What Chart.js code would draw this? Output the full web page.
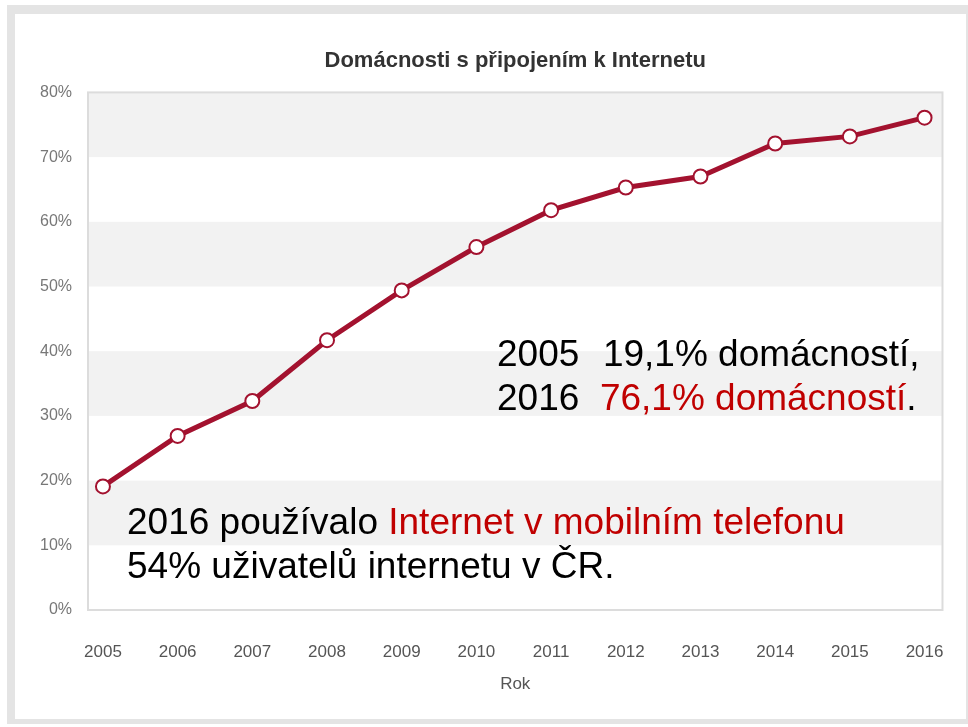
<!DOCTYPE html>
<html>
<head>
<meta charset="utf-8">
<script src="https://cdn.jsdelivr.net/npm/chart.js@4"></script>
<style>
  html, body { margin: 0; padding: 0; background: #fff; overflow: hidden; }
  .frame { position: absolute; left: 7px; top: 5px; width: 951px; height: 705px; border-style: solid; border-color: #e4e4e4; border-width: 9px 2px 5px 8px; }
  .wrap { position: absolute; left: 0; top: 0; width: 968px; height: 727px; }
  .note { position: absolute; font-family: "Liberation Sans", Arial, sans-serif; font-size: 37px; color: #000; line-height: 44px; white-space: nowrap; }
  .red { color: #c00000; }
</style>
</head>
<body>
<div class="frame"></div>
<div class="wrap"><canvas id="chart" width="968" height="727"></canvas></div>
<div class="note" style="left:497px; top:332px;">2005&nbsp;&nbsp;<span style="margin-left:3px">19,1% domácností,</span><br>2016&nbsp;&nbsp;<span class="red">76,1% domácností</span>.</div>
<div class="note" style="left:127px; top:500px;">2016 používalo <span class="red">Internet v mobilním telefonu</span><br>54% uživatelů internetu v ČR.</div>
<script>
const years = [2005, 2006, 2007, 2008, 2009, 2010, 2011, 2012, 2013, 2014, 2015, 2016];
const households = [19.1, 26.9, 32.3, 41.7, 49.4, 56.1, 61.8, 65.3, 67.0, 72.1, 73.2, 76.1];
const yTicks = [0, 10, 20, 30, 40, 50, 60, 70, 80];

const points = years.map((y, i) => ({ x: y, y: households[i] }));

// grey stripes behind the plot
const bands = {
  id: "bands",
  beforeDraw(chart) {
    const { ctx, chartArea, scales } = chart;
    ctx.save();
    for (let v = 10; v < 80; v += 20) {
      const top = scales.y.getPixelForValue(v + 10);
      const bottom = scales.y.getPixelForValue(v);
      ctx.fillStyle = "#f2f2f2";
      ctx.fillRect(chartArea.left, top, chartArea.right - chartArea.left, bottom - top);
    }
    ctx.strokeStyle = "#dcdcdc";
    ctx.lineWidth = 2;
    ctx.strokeRect(chartArea.left, chartArea.top, chartArea.right - chartArea.left, chartArea.bottom - chartArea.top);
    ctx.restore();
  }
};

new Chart(document.getElementById("chart"), {
  type: "line",
  data: {
    datasets: [{
      data: points,
      borderColor: "#a3122f",
      borderWidth: 5,
      pointRadius: 7,
      pointBorderWidth: 2,
      pointBackgroundColor: "#fff",
      pointBorderColor: "#a3122f",
      tension: 0
    }]
  },
  options: {
    responsive: false,
    animation: false,
    layout: { padding: { left: 20, right: 24, top: 48, bottom: 32 } },
    plugins: {
      legend: { display: false },
      tooltip: { enabled: false },
      title: {
        display: true,
        fullSize: false, // centre over the plot, not the canvas
        text: "Domácnosti s připojením k Internetu",
        color: "#333",
        font: { family: "Liberation Sans", size: 22, weight: "bold" },
        padding: { top: 0, bottom: 18 }
      }
    },
    scales: {
      x: {
        type: "linear",
        min: 2004.8,
        max: 2016.24,
        afterBuildTicks(axis) { axis.ticks = years.map(v => ({ value: v })); },
        afterFit(axis) { axis.height = 85; },
        ticks: {
          color: "#555",
          font: { family: "Liberation Sans", size: 17 },
          padding: 24,
          callback: v => String(v)
        },
        grid: { display: false },
        border: { display: false },
        title: { display: true, text: "Rok", color: "#555", font: { family: "Liberation Sans", size: 17 }, padding: { top: 0, bottom: 0 } }
      },
      y: {
        min: 0,
        max: 80,
        afterBuildTicks(axis) { axis.ticks = yTicks.map(v => ({ value: v })); },
        afterFit(axis) { axis.width = 68; },
        ticks: {
          color: "#777",
          font: { family: "Liberation Sans", size: 16 },
          padding: 8,
          callback: v => v + "%"
        },
        grid: { display: false },
        border: { display: false }
      }
    }
  },
  plugins: [bands]
});
</script>
</body>
</html>
